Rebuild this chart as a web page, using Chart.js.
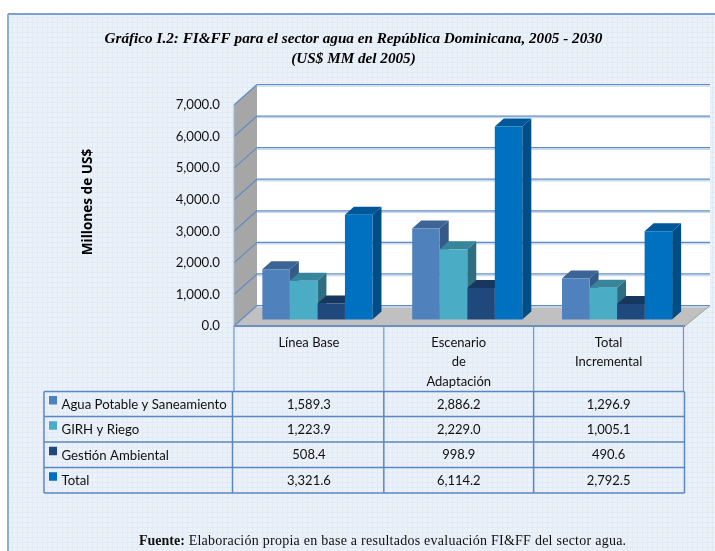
<!DOCTYPE html>
<html><head><meta charset="utf-8">
<style>html,body{margin:0;padding:0;background:#fff}canvas{display:block}</style>
<script src="https://cdn.jsdelivr.net/npm/chart.js@4"></script>
</head><body><canvas id="c" width="715" height="551" style="width:715px;height:551px"></canvas>
<script>
const categories = [['Línea Base'], ['Escenario','de','Adaptación'], ['Total','Incremental']];
const seriesNames = ['Agua Potable y Saneamiento','GIRH y Riego','Gestión Ambiental','Total'];
const aguaPotable = [1589.3, 2886.2, 1296.9];
const girhRiego = [1223.9, 2229.0, 1005.1];
const gestionAmbiental = [508.4, 998.9, 490.6];
const totalValues = [3321.6, 6114.2, 2792.5];
const titleLines = ['Gráfico I.2: FI&FF para el sector agua en República Dominicana, 2005 - 2030','(US$ MM del 2005)'];
const axisTitle = 'Millones de US$';
const sourceBold = 'Fuente:';
const sourceText = ' Elaboración propia en base a resultados evaluación FI&FF del sector agua.';
const allSeries = [aguaPotable, girhRiego, gestionAmbiental, totalValues];
const frontColors = ['#4F81BD','#4BACC6','#1F497D','#0070C0'];
const topColors = ['#3C6494','#37859A','#17375E','#00579A'];
const sideColors = ['#355A88','#2F6E80','#16345A','#004E85'];
const sans = 'Lato, "Open Sans", sans-serif';
const serif = '"Liberation Serif", serif';
const DEPTH_X = 23, DEPTH_Y = -20.5;      // wall depth
const BAR_DX = 9, BAR_DY = -8;            // bar depth
const SHIFT_X = 8.5, SHIFT_Y = -6.5;      // bars sit inside the floor
const fmt = v => v.toLocaleString('en-US',{minimumFractionDigits:1,maximumFractionDigits:1});

function poly(ctx, pts, fill){
  ctx.beginPath(); pts.forEach((p,i)=> i?ctx.lineTo(p[0],p[1]):ctx.moveTo(p[0],p[1])); ctx.closePath();
  ctx.fillStyle = fill; ctx.fill();
}
function line(ctx,x1,y1,x2,y2,color,w){
  ctx.beginPath(); ctx.moveTo(x1,y1); ctx.lineTo(x2,y2); ctx.strokeStyle=color; ctx.lineWidth=w; ctx.stroke();
}
const scene = {
  id:'scene',
  beforeDraw(chart){
    const {ctx,width,height} = chart;
    ctx.save();
    ctx.fillStyle='#fff'; ctx.fillRect(0,0,width,height);
    ctx.fillStyle='#EBF1F9'; ctx.fillRect(8,14,width-8,height-14);
    for(let x=12.5;x<width;x+=5) line(ctx,x,15,x,height,'#E2EAF5',1);
    for(let y=17.5;y<height;y+=5) line(ctx,9,y,width,y,'#E2EAF5',1);
    line(ctx,8,14,8,height,'#8FAFD6',2);
    line(ctx,8,14,width,14,'#7F9FCC',2);
    ctx.restore();
  },
  beforeDatasetsDraw(chart){
    const {ctx,chartArea:a,scales:{y}} = chart;
    const L=a.left,R=a.right+1.5,T=y.getPixelForValue(7000),B=y.getPixelForValue(0);
    const bx=710;
    ctx.save();
    poly(ctx,[[L+DEPTH_X,T+DEPTH_Y],[bx,T+DEPTH_Y],[bx,B+DEPTH_Y],[L+DEPTH_X,B+DEPTH_Y]],'#fff');
    poly(ctx,[[L,T],[L+DEPTH_X,T+DEPTH_Y],[L+DEPTH_X,B+DEPTH_Y],[L,B]],'#A6A6A6');
    poly(ctx,[[L,B],[L+DEPTH_X,B+DEPTH_Y],[bx,B+DEPTH_Y],[R,B]],'#C0C0C0');
    y.ticks.forEach(t=>{
      const p=y.getPixelForValue(t.value);
      line(ctx,L+DEPTH_X,p+DEPTH_Y+1.5,bx,p+DEPTH_Y+1.5,'#C9D9EE',1.5);
      line(ctx,L+DEPTH_X,p+DEPTH_Y,bx,p+DEPTH_Y,'#5F8CC4',1.2);
      line(ctx,L,p,L+DEPTH_X,p+DEPTH_Y,'#5F8CC4',1.2);
    });
    line(ctx,L,T,L,B,'#A6B8CF',1);
    line(ctx,L,B,R,B,'#6F8FBC',2);
    line(ctx,R,B,bx,B+DEPTH_Y,'#9E9E9E',1);
    // depth faces of the bars, left to right; fronts are painted over them by the library
    ctx.translate(SHIFT_X,SHIFT_Y);
    chart.getSortedVisibleDatasetMetas().forEach(meta=>{
      meta.data.forEach(el=>{
        const l=el.x-el.width/2, r=el.x+el.width/2, i=meta.index;
        poly(ctx,[[r,el.y],[r+BAR_DX,el.y+BAR_DY],[r+BAR_DX,el.base+BAR_DY],[r,el.base]],sideColors[i]);
        poly(ctx,[[l,el.y],[l+BAR_DX,el.y+BAR_DY],[r+BAR_DX,el.y+BAR_DY],[r,el.y]],topColors[i]);
      });
    });
    ctx.restore();
  },
  beforeDatasetDraw(chart){
    chart.ctx.save();
    chart.ctx.translate(SHIFT_X,SHIFT_Y);
  },
  afterDatasetDraw(chart){ chart.ctx.restore(); },
  afterDraw(chart){
    const {ctx,chartArea:a,scales:{x}} = chart;
    const edges=[a.left,(x.getPixelForValue(0)+x.getPixelForValue(1))/2,(x.getPixelForValue(1)+x.getPixelForValue(2))/2,a.right];
    const rows=[391.5,416.5,442,467.5,493], lc='#5B87C1';
    ctx.save();
    edges.forEach(e=>line(ctx,e,326,e,rows[0],'#6E97CB',1.2));
    const tl=44, tr=a.right+1, c0=232.5;
    rows.forEach(r=>line(ctx,tl,r,tr,r,lc,1.4));
    [tl,c0,edges[1],edges[2],tr].forEach(e=>line(ctx,e,rows[0],e,rows[4],lc,1.5));
    ctx.textBaseline='middle';
    seriesNames.forEach((name,i)=>{
      const yc=(rows[i]+rows[i+1])/2;
      ctx.fillStyle=frontColors[i]; ctx.fillRect(49,yc-8,8,8.5);
      ctx.fillStyle='#111'; ctx.font='13.2px '+sans; ctx.textAlign='left';
      ctx.fillText(name,61.5,yc+0.5);
      ctx.font='13px '+sans;
      ctx.textAlign='center';
      allSeries[i].forEach((v,j)=>ctx.fillText(fmt(v),x.getPixelForValue(j),yc+0.5));
    });
    ctx.textAlign='left';
    ctx.fillStyle='#111';
    ctx.font='bold 14px '+serif;
    ctx.fillText(sourceBold,139,541);
    const w=ctx.measureText(sourceBold).width;
    ctx.font='14px '+serif;
    ctx.letterSpacing='0.25px';
    ctx.fillText(sourceText,139+w,541);
    ctx.letterSpacing='0px';
    ctx.translate(88.5,202); ctx.rotate(-Math.PI/2);
    ctx.textAlign='center';
    ctx.font='bold 13.6px "Open Sans", sans-serif';
    ctx.fillStyle='#000';
    ctx.fillText(axisTitle,0,0);
    ctx.restore();
  }
};
new Chart(document.getElementById('c'),{
  type:'bar',
  data:{
    labels:categories,
    datasets:allSeries.map((d,i)=>({label:seriesNames[i],data:d,backgroundColor:frontColors[i],clip:false,borderWidth:0}))
  },
  plugins:[scene],
  options:{
    responsive:false,
    animation:false,
    devicePixelRatio:1,
    layout:{padding:{left:23.5,right:31.5,top:0,bottom:0}},
    datasets:{bar:{barPercentage:1,categoryPercentage:0.735}},
    plugins:{
      legend:{display:false},
      tooltip:{enabled:false},
      title:{display:true,text:titleLines,color:'#000',
        font:{family:serif,size:15.2,weight:'bold',style:'italic',lineHeight:20/15.2},
        padding:{top:29,bottom:36}}
    },
    scales:{
      x:{
        grid:{display:false,drawTicks:false},border:{display:false},
        afterFit(s){s.height=225;},
        ticks:{color:'#111',maxRotation:0,minRotation:0,autoSkip:false,padding:7,font:{family:sans,size:13,lineHeight:1.5}}
      },
      y:{
        min:0,max:7000,
        grid:{display:false,drawTicks:false},border:{display:false},
        afterFit(s){s.width=210.5;},
        ticks:{stepSize:1000,color:'#111',padding:14,font:{family:sans,size:13.2},callback:v=>fmt(v)}
      }
    }
  }
});
</script></body></html>
